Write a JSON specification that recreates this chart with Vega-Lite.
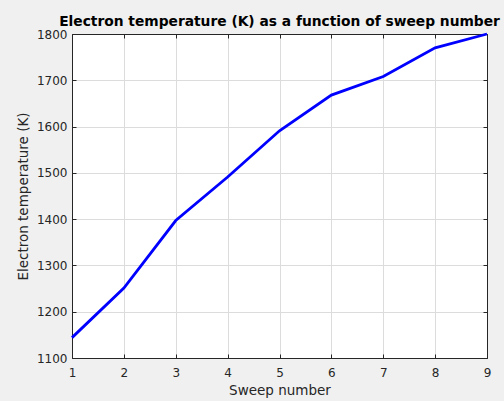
{
  "$schema": "https://vega.github.io/schema/vega-lite/v6.json",
  "width": 415,
  "height": 324,
  "autosize": "none",
  "padding": {"left": 72, "top": 34, "right": 17, "bottom": 43},
  "background": "#f0f0f0",
  "title": {
    "text": "Electron temperature (K) as a function of sweep number",
    "font": "DejaVu Sans",
    "fontSize": 13.8,
    "fontWeight": "bold",
    "color": "#000000",
    "anchor": "middle",
    "offset": -1
  },
  "config": {
    "view": {"stroke": "#262626", "strokeWidth": 1, "fill": "#ffffff"},
    "axis": {
      "labelFont": "DejaVu Sans",
      "labelFontSize": 12,
      "labelColor": "#262626",
      "labelFlush": false,
      "labelOverlap": false,
      "titleFont": "DejaVu Sans",
      "titleFontSize": 13.5,
      "titleFontWeight": "normal",
      "titleColor": "#262626",
      "domainColor": "#262626",
      "tickColor": "#262626",
      "gridColor": "#dcdcdc",
      "tickSize": -4
    }
  },
  "data": {
    "values": [
      {"sweep": 1, "temp": 1144},
      {"sweep": 2, "temp": 1251},
      {"sweep": 3, "temp": 1397},
      {"sweep": 4, "temp": 1491},
      {"sweep": 5, "temp": 1591},
      {"sweep": 6, "temp": 1668},
      {"sweep": 7, "temp": 1708},
      {"sweep": 8, "temp": 1770},
      {"sweep": 9, "temp": 1800}
    ]
  },
  "layer": [
    {
      "mark": {"type": "line", "color": "#0000ff", "strokeWidth": 2.8},
      "encoding": {
        "x": {
          "field": "sweep", "type": "quantitative",
          "scale": {"domain": [1, 9], "nice": false, "zero": false},
          "axis": {"title": "Sweep number", "values": [1,2,3,4,5,6,7,8,9], "format": "d", "labelPadding": 13, "titlePadding": 5}
        },
        "y": {
          "field": "temp", "type": "quantitative",
          "scale": {"domain": [1100, 1800], "nice": false, "zero": false},
          "axis": {"title": "Electron temperature (K)", "values": [1100,1200,1300,1400,1500,1600,1700,1800], "format": "d", "labelPadding": 9, "titlePadding": 6}
        }
      }
    },
    {
      "mark": {"type": "line", "opacity": 0},
      "encoding": {
        "x": {
          "field": "sweep", "type": "quantitative",
          "scale": {"domain": [1, 9], "nice": false, "zero": false},
          "axis": {"orient": "top", "title": null, "labels": false, "grid": false, "values": [1,2,3,4,5,6,7,8,9]}
        },
        "y": {
          "field": "temp", "type": "quantitative",
          "scale": {"domain": [1100, 1800], "nice": false, "zero": false},
          "axis": {"orient": "right", "title": null, "labels": false, "grid": false, "values": [1100,1200,1300,1400,1500,1600,1700,1800]}
        }
      }
    }
  ],
  "resolve": {"axis": {"x": "independent", "y": "independent"}}
}
